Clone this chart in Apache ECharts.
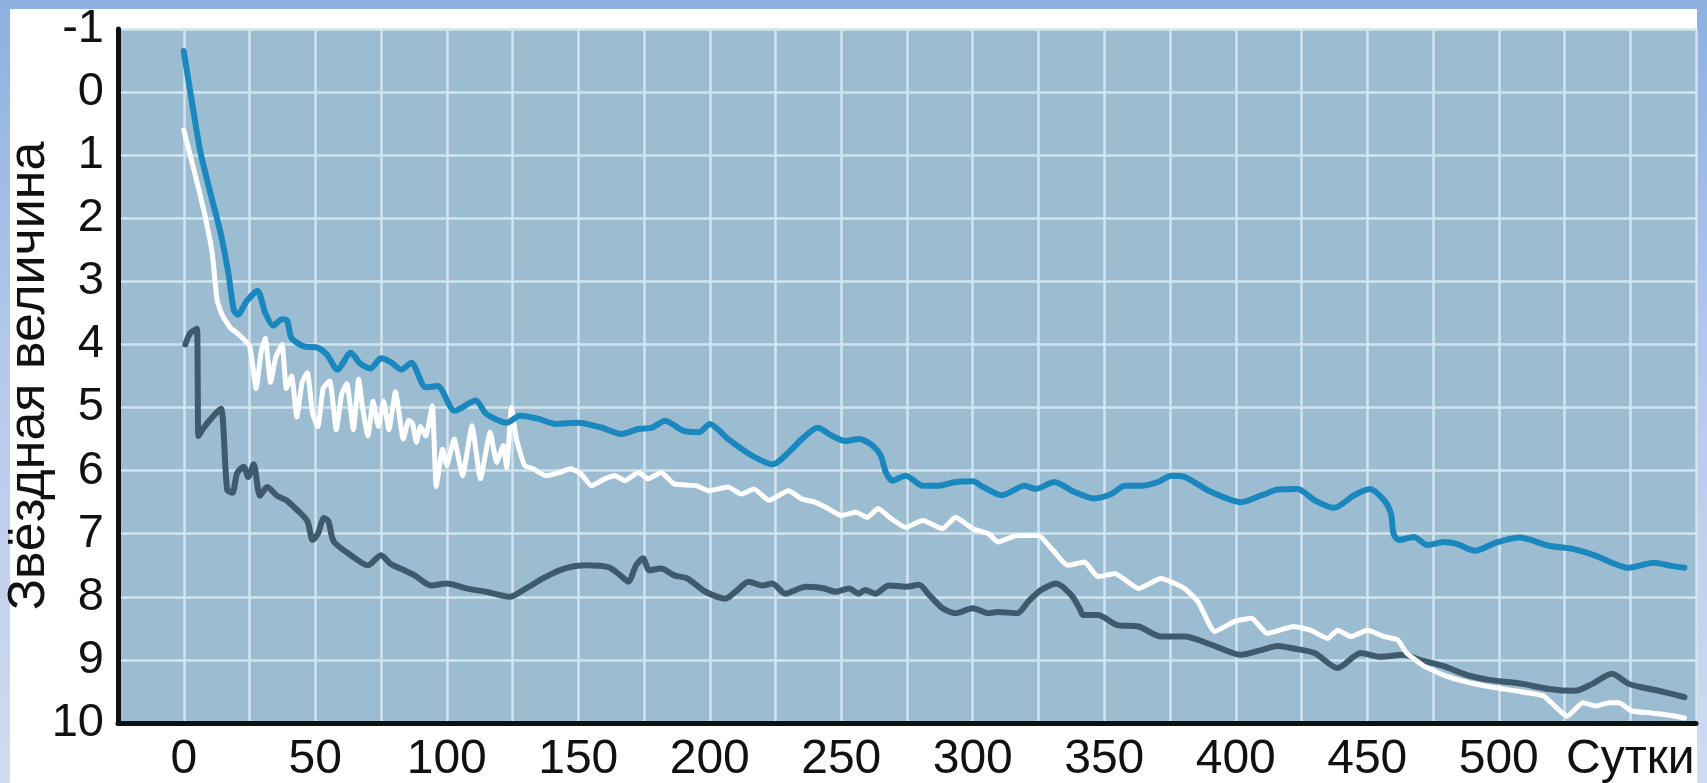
<!DOCTYPE html>
<html>
<head>
<meta charset="utf-8">
<script src="https://cdn.jsdelivr.net/npm/echarts@6/dist/echarts.min.js"></script>
<style>
html,body{margin:0;padding:0;width:1707px;height:783px;overflow:hidden;}
body{background:linear-gradient(to bottom,#8cb0e0 0%,#b4c8ec 45%,#cfdcf1 100%);position:relative;}
#paper{position:absolute;left:10px;top:9px;width:1687px;height:774px;background:#fff;}
#chart{position:absolute;left:0;top:0;width:1707px;height:783px;}
</style>
</head>
<body>
<div id="paper"></div>
<div id="chart"></div>
<script>
// ---- data (days, stellar magnitude) ----
const blueDays = [0,2.5,6.3,10,14,17,19,20.5,24,28,31,34,37.4,39.3,41,45.7,50.8,54.6,58.4,63.5,67,71,75,78.7,82.8,86.5,92,96.5,103,111,115,122.8,127.8,135,141.5,150,159,166.5,172.8,178,183,190,196,200,207,216,224,230,235,241,246.6,251.6,256.7,261.8,265,267,269.4,274.5,281,287,293.5,300,304,311,319.7,324,331,338.7,346,352.7,357.7,364,370.4,375.5,380.6,390.7,402,409.8,416,423.5,430,437.4,445,451,456.4,459,460,462,467.8,472.8,479,484,491,499,508,519,528,537,543,549,559,565.6,570.6];
const blueMag  = [-0.65,0.0,0.94,1.58,2.23,2.88,3.45,3.53,3.31,3.15,3.5,3.7,3.6,3.62,3.9,4.03,4.05,4.17,4.4,4.13,4.3,4.38,4.22,4.28,4.4,4.29,4.68,4.66,5.05,4.89,5.1,5.24,5.13,5.18,5.26,5.24,5.32,5.42,5.34,5.32,5.21,5.37,5.39,5.26,5.5,5.76,5.9,5.71,5.5,5.32,5.45,5.53,5.5,5.6,5.76,6.03,6.16,6.08,6.24,6.24,6.18,6.17,6.26,6.39,6.24,6.29,6.18,6.34,6.44,6.37,6.24,6.24,6.18,6.08,6.1,6.34,6.5,6.39,6.3,6.29,6.47,6.59,6.39,6.29,6.47,6.68,7.0,7.1,7.05,7.18,7.13,7.16,7.27,7.14,7.06,7.19,7.24,7.35,7.46,7.54,7.46,7.51,7.54];

const whiteDays = [0,3.8,7.6,10.8,12.7,14.6,17.8,20.3,25,27.5,29.5,31,33,35,37.4,39,41,43,45,47,49,51,53,55.5,58,60,62,64.5,66.5,68,70,72,74,76,78,80.5,83.5,85.5,87,88.5,90,92,94.5,96,98.4,100,102.8,106,109.6,112.8,116.5,119,121.5,122.8,124.6,126.5,129.6,132.8,137.8,142.8,147,151,155,160,164,167.8,172.8,176.6,181.5,186.5,195,199.6,207,212,216.8,222.5,230,235,240,245,250,255.5,260,264,269,274.5,281,288.5,293.5,300,306,309.5,317,325,330,336,342.5,347.6,354,363,371.6,380.6,385.7,392,399.6,406,412,422,428.5,435,438.7,443.7,450,456.4,461.5,465,471.6,479,486.8,497,508,517,521,526,532,537,542,545.6,550.6,558,565.6,570.6];
const whiteMag  = [0.6,1.22,1.87,2.55,3.3,3.53,3.74,3.82,4.02,4.7,4.1,3.9,4.6,4.2,4.0,4.7,4.5,5.15,4.6,4.45,5.1,5.3,4.7,4.58,5.35,4.8,4.62,5.35,4.55,5.0,5.45,4.9,5.3,4.9,5.35,4.75,5.5,5.2,5.25,5.55,5.3,5.45,4.97,6.25,5.66,5.92,5.5,6.08,5.29,6.13,5.39,5.87,5.6,5.95,5.0,5.5,5.92,5.97,6.08,6.03,5.97,6.05,6.24,6.13,6.08,6.16,6.03,6.13,6.03,6.21,6.24,6.32,6.26,6.37,6.29,6.47,6.32,6.45,6.5,6.6,6.71,6.66,6.74,6.6,6.76,6.9,6.79,6.92,6.74,6.92,7.0,7.13,7.03,7.03,7.24,7.5,7.45,7.68,7.63,7.87,7.71,7.87,8.08,8.55,8.39,8.34,8.58,8.47,8.53,8.66,8.53,8.63,8.53,8.63,8.68,8.89,9.1,9.24,9.34,9.43,9.5,9.57,9.72,9.89,9.68,9.73,9.68,9.68,9.81,9.84,9.88,9.92];

const darkDays = [0.6,2.5,5,5.3,5.6,7.6,12,14.2,16.5,18.5,20.3,22.8,24.5,26.6,29,31.7,35.5,39,43,47,49,51,53.3,55,57,63.5,70,75,78.7,82.8,87.8,94,100,107.8,115,124,130,137.8,145,152.8,161.5,166,169,172,174.6,177,181.5,186.5,191.5,198.4,206,209.8,214.8,220,223.7,228.8,236.4,242.8,247.8,253,256.7,259,263,268,274.5,279.6,283.4,288.5,293.5,300,306,309.5,317,321,326,331.7,337.4,340.6,342,347.6,355,363,371.7,380.6,390.7,402,410,416,422,430,438.7,447.5,455,464,470,479,488,497,509,519,529,535.6,543,549.4,554,563,570.6];
const darkMag  = [4.0,3.82,3.75,4.5,5.45,5.32,5.1,5.02,6.3,6.35,6.04,5.94,6.1,5.9,6.4,6.26,6.4,6.47,6.62,6.8,7.1,7.0,6.75,6.8,7.12,7.34,7.5,7.34,7.48,7.56,7.66,7.82,7.79,7.87,7.92,8.0,7.87,7.68,7.55,7.5,7.53,7.66,7.76,7.5,7.39,7.58,7.55,7.66,7.71,7.92,8.03,7.92,7.76,7.82,7.79,7.95,7.84,7.86,7.92,7.87,7.95,7.89,7.95,7.82,7.84,7.81,7.97,8.18,8.26,8.18,8.26,8.24,8.26,8.08,7.89,7.79,7.97,8.18,8.29,8.29,8.45,8.47,8.63,8.63,8.76,8.92,8.84,8.78,8.82,8.89,9.13,8.89,8.95,8.92,9.0,9.1,9.24,9.32,9.38,9.46,9.49,9.38,9.22,9.38,9.43,9.51,9.59];

const xTickLabels = [0,50,100,150,200,250,300,350,400,450,500];
const xUnitLabel = 'Сутки';
const xUnitAt = 550;
const yTickLabels = [-1,0,1,2,3,4,5,6,7,8,9,10];
const yAxisTitle = 'Звёздная величина';

function pairs(xs, ys){ return xs.map((x,i)=>[x, ys[i]]); }

const chart = echarts.init(document.getElementById('chart'), null, {renderer:'canvas'});
const font = "'Liberation Sans', Arial, sans-serif";
chart.setOption({
  backgroundColor: 'transparent',
  animation: false,
  grid: {left: 118, top: 29, width: 1578, height: 694, show: true, backgroundColor: '#9cbdd1', borderWidth: 0,
         containLabel: false, outerBoundsMode: 'none'},
  xAxis: {
    type: 'value', min: -25, max: 575, interval: 25,
    axisLine: {show: true, onZero: false, lineStyle: {color: '#111', width: 5}},
    axisTick: {show: false},
    splitLine: {show: true, lineStyle: {color: '#d2e4ee', width: 2.5}},
    axisLabel: {
      interval: 0, hideOverlap: false, showMinLabel: true, showMaxLabel: true,
      margin: 13, color: '#111', fontSize: 48, fontFamily: font,
      formatter: v => (v === xUnitAt ? xUnitLabel : (xTickLabels.indexOf(v) >= 0 ? String(v) : ''))
    }
  },
  yAxis: {
    type: 'value', inverse: true, min: yTickLabels[0], max: yTickLabels[yTickLabels.length-1], interval: 1,
    name: yAxisTitle, nameLocation: 'middle', nameGap: 62, nameRotate: 90, nameMoveOverlap: false,
    nameTextStyle: {fontSize: 52, color: '#111', fontFamily: font},
    axisLine: {show: true, onZero: false, lineStyle: {color: '#111', width: 5}},
    axisTick: {show: false},
    splitLine: {show: true, lineStyle: {color: '#d2e4ee', width: 2.5}},
    axisLabel: {margin: 14, color: '#111', fontSize: 47, fontFamily: font,
      formatter: v => (yTickLabels.indexOf(v) >= 0 ? String(v) : '')}
  },
  series: [
    {type: 'line', data: pairs(darkDays, darkMag), showSymbol: false, smooth: 0.25,
     lineStyle: {color: '#3f5a6c', width: 6, join: 'round', cap: 'round'}, z: 3},
    {type: 'line', data: pairs(whiteDays, whiteMag), showSymbol: false, smooth: 0.15,
     lineStyle: {color: '#ffffff', width: 5, join: 'round', cap: 'round'}, z: 4},
    {type: 'line', data: pairs(blueDays, blueMag), showSymbol: false, smooth: 0.25,
     lineStyle: {color: '#1a87be', width: 6, join: 'round', cap: 'round'}, z: 5}
  ]
});
</script>
</body>
</html>
